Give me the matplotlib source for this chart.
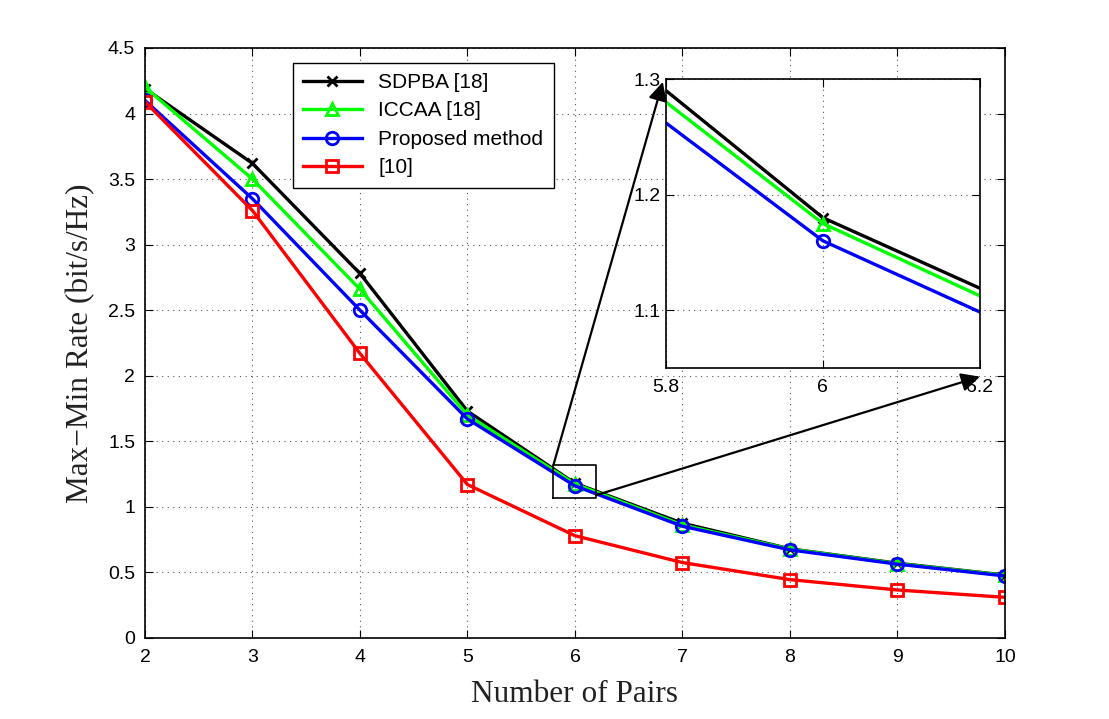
import numpy as np
import matplotlib
matplotlib.use('Agg')
import matplotlib.pyplot as plt

# dados
pares = [2, 3, 4, 5, 6, 7, 8, 9, 10]
sdpba = [4.19, 3.62, 2.78, 1.73, 1.18, 0.875, 0.68, 0.57, 0.48]
iccaa = [4.20, 3.50, 2.66, 1.70, 1.175, 0.862, 0.678, 0.567, 0.478]
proposto = [4.10, 3.35, 2.50, 1.67, 1.16, 0.852, 0.672, 0.563, 0.473]
ref10 = [4.09, 3.26, 2.17, 1.17, 0.78, 0.575, 0.445, 0.366, 0.31]

nomes = ['SDPBA [18]', 'ICCAA [18]', 'Proposed method', '[10]']
cores = ['black', '#00ff00', 'blue', 'red']
marcadores = ['x', '^', 'o', 's']

sans = ['Liberation Sans', 'DejaVu Sans']
serif = ['Liberation Serif', 'DejaVu Serif']

fig = plt.figure(figsize=(11.09, 7.19), dpi=100)
ax = fig.add_axes([0.1307, 0.1127, 0.7755, 0.8206])

series = [sdpba, iccaa, proposto, ref10]
for y, nome, cor, m in zip(series, nomes, cores, marcadores):
    ax.plot(pares, y, color=cor, lw=2.4, marker=m, markersize=9 if m != 'x' else 7,
            mfc='none', mec=cor, mew=2, label=nome)

ax.set_xlim(2, 10)
ax.set_ylim(0, 4.5)
ax.set_xticks(pares)
ax.set_yticks(np.arange(0, 4.51, 0.5))
ax.set_yticklabels(['0', '0.5', '1', '1.5', '2', '2.5', '3', '3.5', '4', '4.5'])
ax.grid(True, linestyle=(0, (1, 4)), color='#555555', lw=0.8)
ax.tick_params(direction='in', top=True, right=True, labelsize=14, length=6)
ax.tick_params(axis='x', pad=8)
ax.tick_params(axis='y', pad=7)
for t in ax.get_xticklabels() + ax.get_yticklabels():
    t.set_family(sans)
for s in ax.spines.values():
    s.set_linewidth(1.2)
ax.set_xlabel('Number of Pairs', family=serif, fontsize=22.5, labelpad=10, color='#222222')
ax.set_ylabel('Max\u2212Min Rate (bit/s/Hz)', family=serif, fontsize=22.5, labelpad=9, color='#222222')

leg = ax.legend(loc='upper left', bbox_to_anchor=(0.172, 0.975), borderaxespad=0,
                prop={'family': sans, 'size': 15},
                fancybox=False, edgecolor='black', framealpha=1, handlelength=2.8,
                borderpad=0.5, labelspacing=0.45)
leg.get_frame().set_linewidth(1.0)

# retângulo de zoom
ax.plot([5.8, 6.2, 6.2, 5.8, 5.8], [1.07, 1.07, 1.32, 1.32, 1.07], color='black', lw=1.2)

# inset
axins = fig.add_axes([0.6005, 0.4882, 0.2831, 0.4019])
for y, cor, m in zip(series, cores, marcadores):
    axins.plot(pares, y, color=cor, lw=2.4, marker=m, markersize=9 if m != 'x' else 7,
               mfc='none', mec=cor, mew=2)
axins.set_xlim(5.8, 6.2)
axins.set_ylim(1.05, 1.3)
axins.set_xticks([5.8, 6, 6.2])
axins.set_xticklabels(['5.8', '6', '6.2'])
axins.set_yticks([1.1, 1.2, 1.3])
axins.grid(True, linestyle=(0, (1, 4)), color='#555555', lw=0.8)
axins.tick_params(direction='in', top=True, right=True, labelsize=14, length=6)
axins.tick_params(axis='x', pad=8)
for t in axins.get_xticklabels() + axins.get_yticklabels():
    t.set_family(sans)
for s in axins.spines.values():
    s.set_linewidth(1.2)

# setas
seta = dict(arrowstyle='-|>', color='black', lw=1.6, mutation_scale=28, shrinkA=0, shrinkB=0)
axins.annotate('', xy=(-0.01, 0.99), xycoords='axes fraction', xytext=(5.8, 1.32),
               textcoords=ax.transData, arrowprops=seta, annotation_clip=False)
axins.annotate('', xy=(1.0, -0.03), xycoords='axes fraction', xytext=(6.2, 1.09),
               textcoords=ax.transData, arrowprops=seta, annotation_clip=False)

fig.savefig('out.png', dpi=100)
